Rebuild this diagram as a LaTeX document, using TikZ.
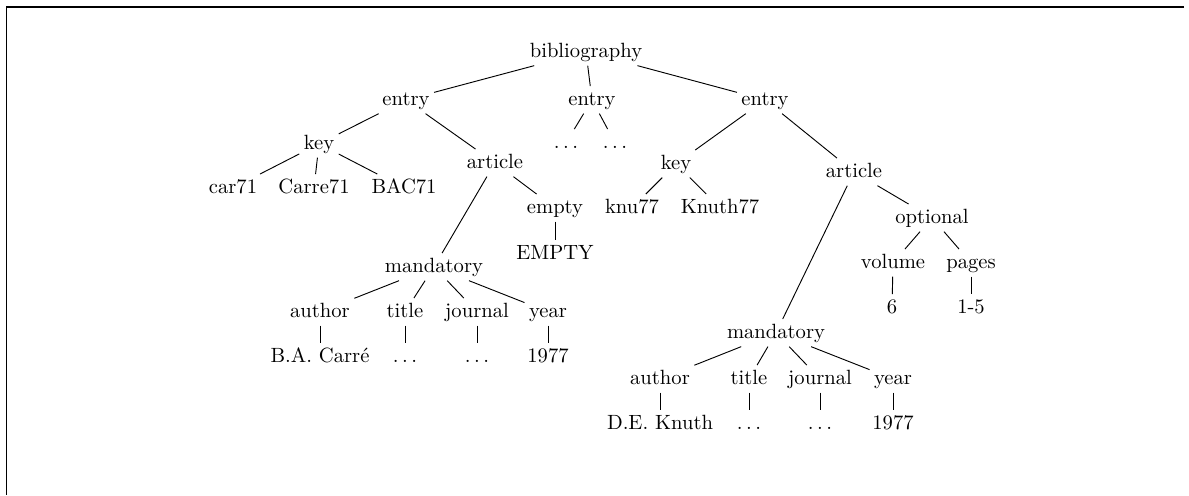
\documentclass[tikz,border=0pt]{standalone}
\usepackage{tikz}
\usetikzlibrary{positioning}

\begin{document}
\begin{tikzpicture}[
  x=0.485pt, y=-0.485pt,
  lbl/.style={anchor=base, inner xsep=2pt, inner ysep=2pt, text height=7pt, text depth=2pt, font=\normalsize},
  link/.style={line width=0.45pt, draw=black},
  frame/.style={line width=0.5pt, draw=black}
]
  \useasboundingbox (0,0) rectangle (1189,495);

  % Frame (top and left edges only)
  \draw[frame] (1184,7) -- (6.5,7) -- (6.5,495);

  % Root and entries
  \node[lbl] (bib) at (586,57) {bibliography};
  \node[lbl] (entryA) at (406,105) {entry};
  \node[lbl] (entryB) at (592,105) {entry};
  \node[lbl] (entryC) at (765,105) {entry};
  \draw[link] (bib) -- (entryA);
  \draw[link] (bib) -- (entryB);
  \draw[link] (bib) -- (entryC);

  % First entry: key
  \node[lbl] (keyA) at (319,149) {key};
  \node[lbl] (car) at (233,193) {car71};
  \node[lbl] (carre) at (314,193) {Carre71};
  \node[lbl] (bac) at (404,193) {BAC71};
  \draw[link] (entryA) -- (keyA);
  \draw[link] (keyA) -- (car);
  \draw[link] (keyA) -- (carre);
  \draw[link] (keyA) -- (bac);

  % First entry: article
  \node[lbl] (articleA) at (495,168) {article};
  \node[lbl] (emptyA) at (555,213) {empty};
  \node[lbl] (emptyval) at (555,259) {EMPTY};
  \node[lbl] (mandA) at (434,272) {mandatory};
  \draw[link] (entryA) -- (articleA);
  \draw[link] (articleA) -- (emptyA);
  \draw[link] (emptyA) -- (emptyval);
  \draw[link] (articleA) -- (mandA);

  \node[lbl] (authA) at (320,317) {author};
  \node[lbl] (titleA) at (405,317) {title};
  \node[lbl] (jourA) at (477,317) {journal};
  \node[lbl] (yearA) at (548,317) {year};
  \draw[link] (mandA) -- (authA);
  \draw[link] (mandA) -- (titleA);
  \draw[link] (mandA) -- (jourA);
  \draw[link] (mandA) -- (yearA);

  \node[lbl] (authvalA) at (320,362) {B.A. Carr\'e};
  \node[lbl] (titlevalA) at (405,362) {$\ldots$};
  \node[lbl] (jourvalA) at (477,362) {$\ldots$};
  \node[lbl] (yearvalA) at (548,362) {1977};
  \draw[link] (authA) -- (authvalA);
  \draw[link] (titleA) -- (titlevalA);
  \draw[link] (jourA) -- (jourvalA);
  \draw[link] (yearA) -- (yearvalA);

  % Middle entry
  \node[lbl] (dotsA) at (566,148) {$\ldots$};
  \node[lbl] (dotsB) at (615,148) {$\ldots$};
  \draw[link] (entryB) -- (dotsA);
  \draw[link] (entryB) -- (dotsB);

  % Last entry: key
  \node[lbl] (keyC) at (676,169) {key};
  \node[lbl] (knu) at (632,213) {knu77};
  \node[lbl] (knuth) at (720,213) {Knuth77};
  \draw[link] (entryC) -- (keyC);
  \draw[link] (keyC) -- (knu);
  \draw[link] (keyC) -- (knuth);

  % Last entry: article
  \node[lbl] (articleC) at (854,177) {article};
  \node[lbl] (optC) at (932,223) {optional};
  \node[lbl] (volC) at (893,268) {volume};
  \node[lbl] (pagesC) at (971,268) {pages};
  \node[lbl] (volval) at (892,313) {6};
  \node[lbl] (pagesval) at (971,313) {1-5};
  \draw[link] (entryC) -- (articleC);
  \draw[link] (articleC) -- (optC);
  \draw[link] (optC) -- (volC);
  \draw[link] (optC) -- (pagesC);
  \draw[link] (volC) -- (volval);
  \draw[link] (pagesC) -- (pagesval);

  \node[lbl] (mandC) at (776,338) {mandatory};
  \draw[link] (articleC) -- (mandC);

  \node[lbl] (authC) at (660,384) {author};
  \node[lbl] (titleC) at (749,384) {title};
  \node[lbl] (jourC) at (820,384) {journal};
  \node[lbl] (yearC) at (893,384) {year};
  \draw[link] (mandC) -- (authC);
  \draw[link] (mandC) -- (titleC);
  \draw[link] (mandC) -- (jourC);
  \draw[link] (mandC) -- (yearC);

  \node[lbl] (authvalC) at (660,429) {D.E. Knuth};
  \node[lbl] (titlevalC) at (749,429) {$\ldots$};
  \node[lbl] (jourvalC) at (820,429) {$\ldots$};
  \node[lbl] (yearvalC) at (893,429) {1977};
  \draw[link] (authC) -- (authvalC);
  \draw[link] (titleC) -- (titlevalC);
  \draw[link] (jourC) -- (jourvalC);
  \draw[link] (yearC) -- (yearvalC);

\end{tikzpicture}
\end{document}
